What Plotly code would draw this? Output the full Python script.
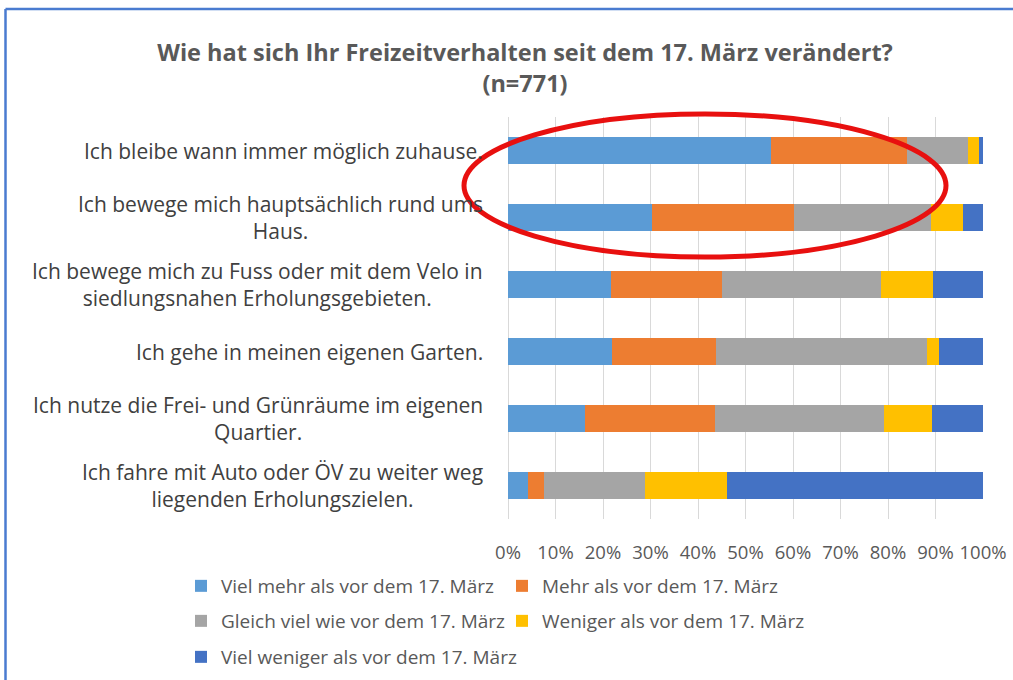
import plotly.graph_objects as go

categories = [
    "Ich bleibe wann immer möglich zuhause.",
    "Ich bewege mich hauptsächlich rund ums<br>Haus.",
    "Ich bewege mich zu Fuss oder mit dem Velo in<br>siedlungsnahen Erholungsgebieten.",
    "Ich gehe in meinen eigenen Garten.",
    "Ich nutze die Frei- und Grünräume im eigenen<br>Quartier.",
    "Ich fahre mit Auto oder ÖV zu weiter weg<br>liegenden Erholungszielen.",
]
series_names = [
    "Viel mehr als vor dem 17. März",
    "Mehr als vor dem 17. März",
    "Gleich viel wie vor dem 17. März",
    "Weniger als vor dem 17. März",
    "Viel weniger als vor dem 17. März",
]
viel_mehr = [55.4, 30.4, 21.6, 21.9, 16.2, 4.3]
mehr = [28.6, 29.9, 23.4, 21.8, 27.3, 3.3]
gleich = [12.9, 28.8, 33.6, 44.5, 35.7, 21.3]
weniger = [2.2, 6.6, 10.8, 2.5, 10.1, 17.1]
viel_weniger = [0.9, 4.3, 10.6, 9.3, 10.7, 54.0]
tick_vals = [0, 10, 20, 30, 40, 50, 60, 70, 80, 90, 100]
tick_text = ["0%", "10%", "20%", "30%", "40%", "50%", "60%", "70%", "80%", "90%", "100%"]
title_text = "Wie hat sich Ihr Freizeitverhalten seit dem 17. März verändert?<br>(n=771)"

colors = ["#5B9BD5", "#ED7D31", "#A5A5A5", "#FFC000", "#4472C4"]
legend_ids = ["legend", "legend2", "legend3", "legend4", "legend5"]
values = [viel_mehr, mehr, gleich, weniger, viel_weniger]

FONT = "Open Sans"

fig = go.Figure()
for name, vals, col, lg in zip(series_names, values, colors, legend_ids):
    fig.add_trace(go.Bar(
        y=categories, x=vals, name=name, orientation="h",
        marker=dict(color=col, line=dict(width=0)),
        legend=lg,
    ))

# Category labels (centered multi-line, right of plot edge)
for c in categories:
    fig.add_annotation(
        x=0, xref="paper", y=c, yref="y", xanchor="right", xshift=-23,
        text=c, showarrow=False, align="center",
        font=dict(family=FONT, size=21, color="#404040"),
    )

W, H = 1013, 680
L, R, T, B = 508, 983, 117, 519
pw, ph = R - L, B - T

def px(x):
    return (x - L) / pw

def py(y):
    return (B - y) / ph

legend_common = dict(
    orientation="h", xanchor="left", yanchor="middle",
    xref="container", yref="container",
    font=dict(family=FONT, size=19, color="#595959"),
    bgcolor="rgba(0,0,0,0)", itemclick=False, traceorder="normal",
)

frame = dict(color="#4A7BD0", width=2.5)
col1, col2 = 181, 502
fig.update_layout(
    width=W, height=H,
    margin=dict(l=L, r=W - R, t=T, b=H - B, autoexpand=False),
    paper_bgcolor="white", plot_bgcolor="white",
    barmode="stack", bargap=0.6,
    showlegend=True,
    title=dict(text="<b>" + title_text + "</b>", x=525 / W, xanchor="center",
               y=1 - 61 / H, yanchor="middle", yref="container",
               font=dict(family=FONT, size=23.5, color="#595959")),
    legend=dict(x=col1 / W, y=1 - 586 / H, **legend_common),
    legend2=dict(x=col2 / W, y=1 - 586 / H, **legend_common),
    legend3=dict(x=col1 / W, y=1 - 621 / H, **legend_common),
    legend4=dict(x=col2 / W, y=1 - 621 / H, **legend_common),
    legend5=dict(x=col1 / W, y=1 - 657 / H, **legend_common),
    xaxis=dict(range=[0, 100], tickvals=tick_vals, ticktext=tick_text,
               showgrid=True, gridcolor="#D9D9D9", gridwidth=1,
               zeroline=True, zerolinecolor="#D9D9D9", zerolinewidth=1,
               showline=False, ticks="", ticklabelstandoff=20,
               tickfont=dict(family=FONT, size=18.5, color="#595959"),
               fixedrange=True, automargin=False),
    yaxis=dict(autorange="reversed", showticklabels=False, showgrid=False,
               zeroline=False, ticks="", fixedrange=True, automargin=False),
    shapes=[
        # outer frame (top and left edges visible)
        dict(type="line", xref="paper", yref="paper",
             x0=px(5.5), x1=px(1013), y0=py(9), y1=py(9), line=frame, layer="above"),
        dict(type="line", xref="paper", yref="paper",
             x0=px(5.5), x1=px(5.5), y0=py(9), y1=py(680), line=frame, layer="above"),
        # red highlight ellipse
        dict(type="circle", xref="paper", yref="paper",
             x0=px(464), x1=px(946), y0=py(257), y1=py(114),
             line=dict(color="#E8100F", width=5), fillcolor="rgba(0,0,0,0)",
             layer="above"),
    ],
)

fig.write_html("out.html", config={"displayModeBar": False},
               post_script="document.body.style.margin='0px';document.body.style.overflow='hidden';")
